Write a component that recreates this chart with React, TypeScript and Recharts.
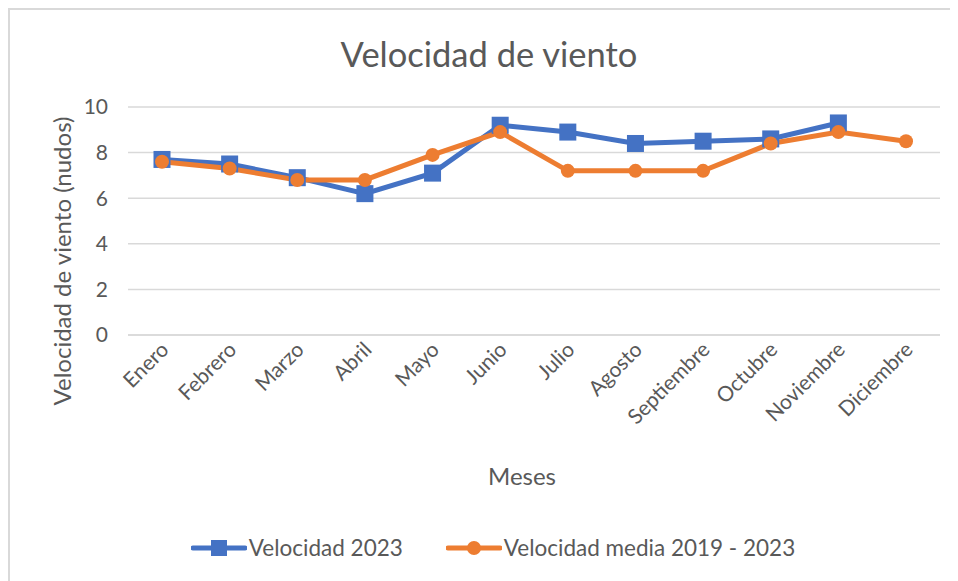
import React from 'react';
import { LineChart, Line, XAxis, YAxis, CartesianGrid } from 'recharts';

const months = ['Enero', 'Febrero', 'Marzo', 'Abril', 'Mayo', 'Junio', 'Julio', 'Agosto', 'Septiembre', 'Octubre', 'Noviembre', 'Diciembre'];
const vel2023 = [7.7, 7.5, 6.9, 6.2, 7.1, 9.2, 8.9, 8.4, 8.5, 8.6, 9.3, null];
const velMedia = [7.6, 7.3, 6.8, 6.8, 7.9, 8.9, 7.2, 7.2, 7.2, 8.4, 8.9, 8.5];
const yTicks = [0, 2, 4, 6, 8, 10];

const BLUE = '#4472C4';
const ORANGE = '#ED7D31';
const TEXT = '#595959';
const GRID = '#d9d9d9';
const FONT = 'Lato, "Open Sans", sans-serif';

const data = months.map((m, i) => ({ mes: m, v2023: vel2023[i], media: velMedia[i] }));

const SquareDot = (props: any) => {
  const { cx, cy, value } = props;
  if (value == null || cx == null || cy == null) return null;
  return <rect x={cx - 8.5} y={cy - 8.5} width={17} height={17} fill={BLUE} />;
};

const RoundDot = (props: any) => {
  const { cx, cy, value } = props;
  if (value == null || cx == null || cy == null) return null;
  return <circle cx={cx} cy={cy} r={7} fill={ORANGE} />;
};

const MonthTick = ({ x, y, payload }: any) => {
  const ax = x + 8;
  const ay = y + 8;
  return (
    <text
      x={ax}
      y={ay}
      textAnchor="end"
      fill={TEXT}
      fontSize={21}
      fontFamily={FONT}
      transform={`rotate(-45, ${ax}, ${ay})`}
    >
      {payload.value}
    </text>
  );
};

const LegendIcon = ({ color, square }: { color: string; square: boolean }) => (
  <svg width={56} height={20} style={{ display: 'block' }}>
    <line x1={2} y1={10} x2={54} y2={10} stroke={color} strokeWidth={5} strokeLinecap="round" />
    {square ? <rect x={20} y={2} width={16} height={16} fill={color} /> : <circle cx={28} cy={10} r={7} fill={color} />}
  </svg>
);

export default function App() {
  return (
    <div
      style={{
        position: 'relative',
        width: 948,
        height: 571,
        borderTop: `2px solid ${GRID}`,
        borderLeft: `2px solid ${GRID}`,
        fontFamily: FONT,
        color: TEXT,
        overflow: 'hidden',
      }}
    >
      <div style={{ position: 'absolute', left: 0, width: 958, top: 23, textAlign: 'center', fontSize: 34.5, lineHeight: '42px' }}>
        Velocidad de viento
      </div>

      <LineChart
        width={948}
        height={571}
        data={data}
        margin={{ top: 97, right: 18, left: 0, bottom: 46 }}
        style={{ position: 'absolute', left: 0, top: 0 }}
      >
        <CartesianGrid vertical={false} stroke={GRID} strokeWidth={1.5} />
        <XAxis
          dataKey="mes"
          height={200}
          axisLine={{ stroke: GRID, strokeWidth: 1.5 }}
          tickLine={false}
          interval={0}
          padding={{ left: 34, right: 34 }}
          tick={<MonthTick />}
        />
        <YAxis
          width={118}
          domain={[0, 10]}
          ticks={yTicks}
          axisLine={false}
          tickLine={false}
          tickMargin={14}
          tick={{ fill: TEXT, fontSize: 21, fontFamily: FONT }}
        />
        <Line
          type="linear"
          dataKey="v2023"
          stroke={BLUE}
          strokeWidth={5}
          dot={<SquareDot />}
          activeDot={false}
          isAnimationActive={false}
        />
        <Line
          type="linear"
          dataKey="media"
          stroke={ORANGE}
          strokeWidth={5}
          dot={<RoundDot />}
          activeDot={false}
          isAnimationActive={false}
        />
      </LineChart>

      <div
        style={{
          position: 'absolute',
          left: 52 - 160,
          top: 251 - 14,
          width: 320,
          textAlign: 'center',
          fontSize: 24,
          lineHeight: '28px',
          transform: 'rotate(-90deg)',
          whiteSpace: 'nowrap',
        }}
      >
        Velocidad de viento (nudos)
      </div>

      <div style={{ position: 'absolute', left: 412, width: 200, top: 452, textAlign: 'center', fontSize: 24, lineHeight: '28px' }}>
        Meses
      </div>

      <div
        style={{
          position: 'absolute',
          left: 0,
          width: 958,
          top: 524,
          display: 'flex',
          justifyContent: 'center',
          alignItems: 'center',
          fontSize: 22.5,
          lineHeight: '28px',
        }}
      >
        <div style={{ display: 'flex', alignItems: 'center', position: 'relative', left: 4 }}>
          <LegendIcon color={BLUE} square />
          <span style={{ marginLeft: 2 }}>Velocidad 2023</span>
          <span style={{ width: 43 }} />
          <LegendIcon color={ORANGE} square={false} />
          <span style={{ marginLeft: 2 }}>Velocidad media 2019 - 2023</span>
        </div>
      </div>
    </div>
  );
}
